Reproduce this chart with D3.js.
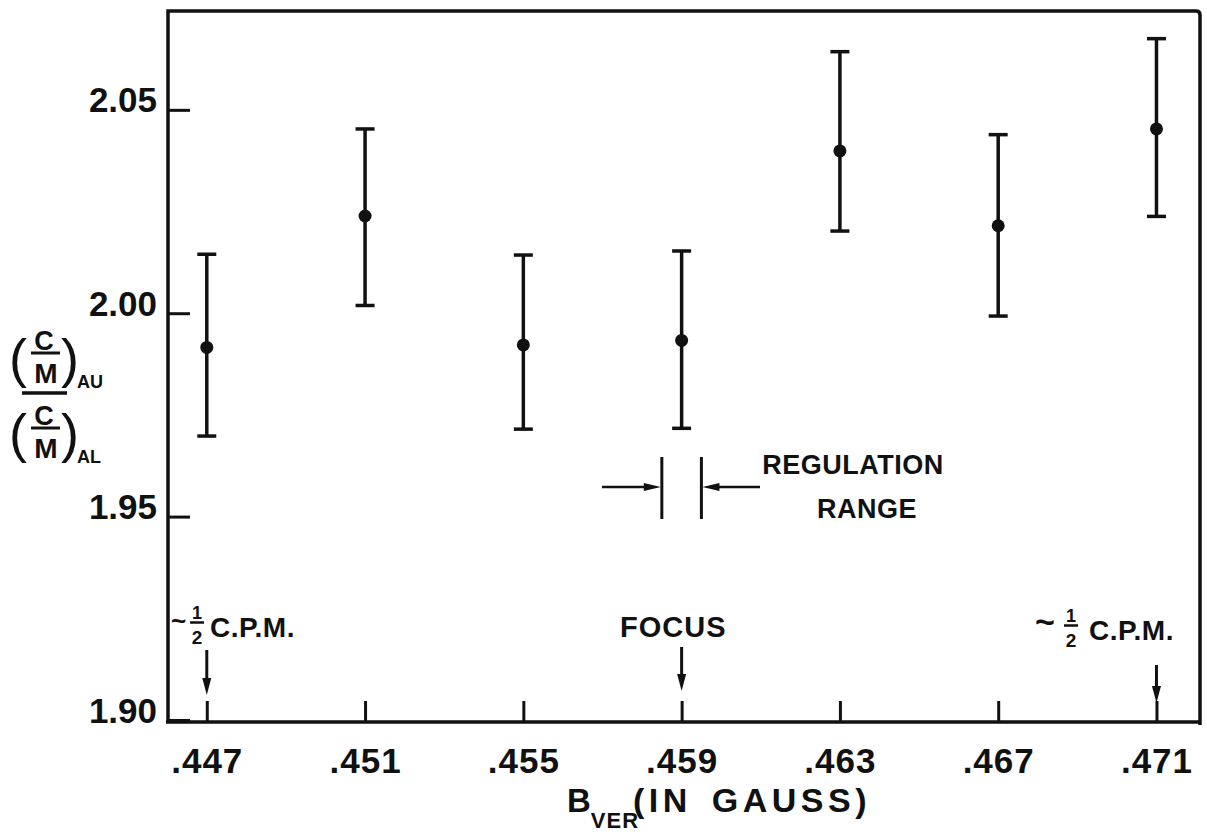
<!DOCTYPE html>
<html>
<head>
<meta charset="utf-8">
<script src="https://cdn.jsdelivr.net/npm/d3@7/dist/d3.min.js"></script>
<style>
  html, body { margin: 0; padding: 0; background: #fff; }
  svg { display: block; }
  text { font-family: "Liberation Sans", Arial, sans-serif; font-weight: bold; fill: #111; }
</style>
</head>
<body>
<svg id="chart" width="1207" height="832"></svg>
<script>
// ---- data ----
const bField   = [0.447, 0.451, 0.455, 0.459, 0.463, 0.467, 0.471];
const ratio    = [1.9916, 2.0239, 1.9922, 1.9933, 2.0399, 2.0215, 2.0453];
const errHigh  = [2.0145, 2.0453, 2.0143, 2.0153, 2.0643, 2.0439, 2.0675];
const errLow   = [1.9698, 2.0019, 1.9715, 1.9717, 2.0202, 1.9993, 2.0238];
const xTicks   = [0.447, 0.451, 0.455, 0.459, 0.463, 0.467, 0.471];
const yTicks   = [1.90, 1.95, 2.00, 2.05];
const regulationRange = [0.4585, 0.4595];
const markerX      = [0.447, 0.459, 0.471];
const markerLabels = ["C.P.M.", "FOCUS", "C.P.M."];

// ---- layout ----
const svg = d3.select("#chart");
const L = 168, R = 1200, T = 11, B = 722;
const x = d3.scaleLinear().domain([0.44602, 0.4721]).range([L, R]);
const y = d3.scaleLinear().domain([1.8995, 2.0743]).range([B, T]);
const ink = "#111";

// frame
svg.append("path")
  .attr("d", `M${L},${B} L${L},${T} L${R-4},${T} Q${R},${T} ${R},${T+4} L${R},${B+3} M${L-2},${B} L${R+1},${B}`)
  .attr("fill", "none").attr("stroke", ink).attr("stroke-width", 3.5);

// x axis (inward ticks)
const xAxis = d3.axisBottom(x).tickValues(xTicks).tickSize(-21).tickPadding(26)
  .tickFormat(d => d3.format(".3f")(d).replace(/^0/, ""));
const gx = svg.append("g").attr("transform", `translate(0,${B})`).call(xAxis);
gx.select(".domain").remove();
gx.selectAll(".tick line").attr("stroke", ink).attr("stroke-width", 3);
gx.selectAll(".tick text").attr("font-size", 35).attr("letter-spacing", 1)
  .style("font-family", "'Liberation Sans', Arial, sans-serif").style("font-weight", "bold").attr("fill", ink);

// y axis (inward ticks)
const yAxis = d3.axisLeft(y).tickValues(yTicks).tickSize(-22).tickPadding(11)
  .tickFormat(d3.format(".2f"));
const gy = svg.append("g").attr("transform", `translate(${L},0)`).call(yAxis);
gy.select(".domain").remove();
gy.selectAll(".tick line").attr("stroke", ink).attr("stroke-width", 3);
gy.selectAll(".tick text").attr("font-size", 35).attr("dy", "0.06em")
  .style("font-family", "'Liberation Sans', Arial, sans-serif").style("font-weight", "bold").attr("fill", ink);

// error bars + points
const pts = bField.map((b, i) => ({ b, v: ratio[i], lo: errLow[i], hi: errHigh[i] }));
const eb = svg.append("g").attr("stroke", ink).attr("stroke-width", 3.5);
eb.selectAll("line.stem").data(pts).join("line").attr("class", "stem")
  .attr("x1", d => x(d.b)).attr("x2", d => x(d.b))
  .attr("y1", d => y(d.lo)).attr("y2", d => y(d.hi));
eb.selectAll("line.capHi").data(pts).join("line").attr("class", "capHi")
  .attr("x1", d => x(d.b) - 9.5).attr("x2", d => x(d.b) + 9.5)
  .attr("y1", d => y(d.hi)).attr("y2", d => y(d.hi));
eb.selectAll("line.capLo").data(pts).join("line").attr("class", "capLo")
  .attr("x1", d => x(d.b) - 9.5).attr("x2", d => x(d.b) + 9.5)
  .attr("y1", d => y(d.lo)).attr("y2", d => y(d.lo));
svg.append("g").selectAll("circle").data(pts).join("circle")
  .attr("cx", d => x(d.b)).attr("cy", d => y(d.v)).attr("r", 6.5).attr("fill", ink);

// arrow helpers
function downArrow(cx, y1, y2) {
  svg.append("line").attr("x1", cx).attr("x2", cx).attr("y1", y1).attr("y2", y2 - 12)
    .attr("stroke", ink).attr("stroke-width", 3);
  svg.append("path").attr("d", `M${cx-4.5},${y2-17} L${cx+4.5},${y2-17} L${cx},${y2} Z`).attr("fill", ink);
}
function hArrow(x1, x2, yy) {
  const dir = x2 > x1 ? 1 : -1;
  svg.append("line").attr("x1", x1).attr("x2", x2 - dir * 12).attr("y1", yy).attr("y2", yy)
    .attr("stroke", ink).attr("stroke-width", 2.5);
  svg.append("path").attr("d", `M${x2 - dir*17},${yy-4} L${x2 - dir*17},${yy+4} L${x2},${yy} Z`).attr("fill", ink);
}

// marker arrows
downArrow(x(markerX[0]), 650, 695);
downArrow(x(markerX[1]), 647, 691);
downArrow(x(markerX[2]), 665, 703);

// "~1/2" helper: tilde at tx, fraction centred at fx
function approxHalf(tx, fx, baseY, tildeSize) {
  svg.append("text").attr("x", tx).attr("y", baseY - 7).attr("font-size", tildeSize).text("~");
  svg.append("text").attr("x", fx).attr("y", baseY - 18).attr("font-size", 18).attr("text-anchor", "middle").text("1");
  svg.append("line").attr("x1", fx - 7).attr("x2", fx + 7).attr("y1", baseY - 14.5).attr("y2", baseY - 14.5)
    .attr("stroke", ink).attr("stroke-width", 2.5);
  svg.append("text").attr("x", fx).attr("y", baseY + 7).attr("font-size", 19).attr("text-anchor", "middle").text("2");
}
// left ~1/2 C.P.M.
approxHalf(171, 197, 637, 26);
svg.append("text").attr("x", 210).attr("y", 637).attr("font-size", 28).attr("letter-spacing", 0.5).text(markerLabels[0]);
// right ~1/2 C.P.M.
approxHalf(1035, 1071, 640, 34);
svg.append("text").attr("x", 1089).attr("y", 640).attr("font-size", 28).attr("letter-spacing", 0.5).text(markerLabels[2]);
// FOCUS
svg.append("text").attr("x", 620).attr("y", 637).attr("font-size", 29).attr("letter-spacing", 1).text(markerLabels[1]);

// regulation range
const rx0 = x(regulationRange[0]), rx1 = x(regulationRange[1]);
[rx0, rx1].forEach(xx => svg.append("line").attr("x1", xx).attr("x2", xx).attr("y1", 457).attr("y2", 519)
  .attr("stroke", ink).attr("stroke-width", 3));
hArrow(602, rx0 - 1, 487);
hArrow(760, rx1 + 1, 487);
svg.append("text").attr("x", 853).attr("y", 474).attr("font-size", 27).attr("text-anchor", "middle").attr("letter-spacing", 0.5).text("REGULATION");
svg.append("text").attr("x", 867).attr("y", 518).attr("font-size", 27).attr("text-anchor", "middle").attr("letter-spacing", 0.5).text("RANGE");

// x axis title
const xt = svg.append("text").attr("x", 567).attr("y", 812).attr("font-size", 33);
xt.append("tspan").text("B");
xt.append("tspan").attr("font-size", 22).attr("dy", 16).attr("letter-spacing", 1).text("VER");
xt.append("tspan").attr("x", 633).attr("y", 812).attr("font-size", 34).attr("letter-spacing", 4.5).attr("word-spacing", 6).text("(IN GAUSS)");

// y axis title: (C/M)_AU / (C/M)_AL
function cmGroup(oy, sub) {
  svg.append("text").attr("x", 9).attr("y", oy + 47).attr("font-size", 54).style("font-weight", "normal").text("(");
  svg.append("text").attr("x", 44).attr("y", oy + 20).attr("font-size", 27).attr("text-anchor", "middle").text("C");
  svg.append("line").attr("x1", 31).attr("x2", 60).attr("y1", oy + 23).attr("y2", oy + 23).attr("stroke", ink).attr("stroke-width", 3);
  svg.append("text").attr("x", 46).attr("y", oy + 53).attr("font-size", 28).attr("text-anchor", "middle").text("M");
  svg.append("text").attr("x", 61).attr("y", oy + 47).attr("font-size", 54).style("font-weight", "normal").text(")");
  svg.append("text").attr("x", 77).attr("y", oy + 58).attr("font-size", 18).text(sub);
}
cmGroup(330, "AU");
svg.append("line").attr("x1", 22).attr("x2", 67).attr("y1", 393).attr("y2", 393).attr("stroke", ink).attr("stroke-width", 3.5);
cmGroup(405, "AL");
</script>
</body>
</html>
